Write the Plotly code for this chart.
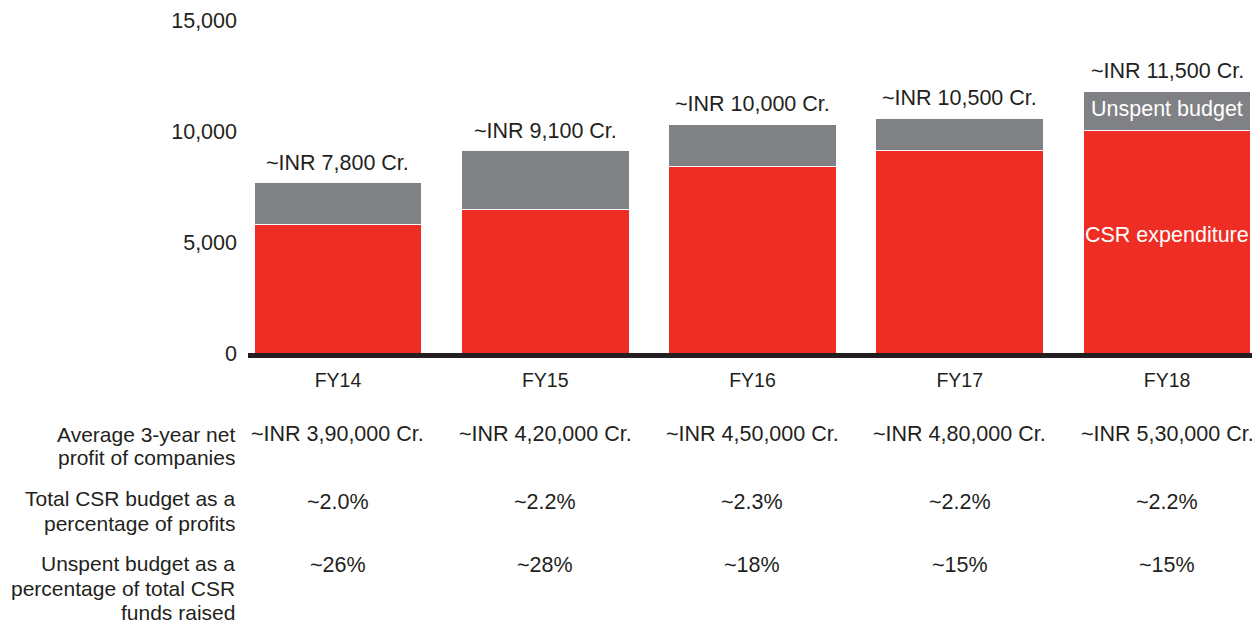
import plotly.graph_objects as go

years = ["FY14", "FY15", "FY16", "FY17", "FY18"]
csr_expenditure = [5770, 6450, 8420, 9140, 10040]
unspent_budget = [1890, 2650, 1880, 1430, 1760]
total_labels = ["~INR 7,800 Cr.", "~INR 9,100 Cr.", "~INR 10,000 Cr.", "~INR 10,500 Cr.", "~INR 11,500 Cr."]
avg_profit = ["~INR 3,90,000 Cr.", "~INR 4,20,000 Cr.", "~INR 4,50,000 Cr.", "~INR 4,80,000 Cr.", "~INR 5,30,000 Cr."]
budget_pct = ["~2.0%", "~2.2%", "~2.3%", "~2.2%", "~2.2%"]
unspent_pct = ["~26%", "~28%", "~18%", "~15%", "~15%"]
row_labels = [["Average 3-year net", "profit of companies"],
              ["Total CSR budget as a", "percentage of profits"],
              ["Unspent budget as a", "percentage of total CSR", "funds raised"]]
y_ticks = [0, 5000, 10000, 15000]

RED = "#EE2E24"
GRAY = "#808184"
TXT = "#231F20"
FONT = "Arial, Liberation Sans, sans-serif"
FS = 21.5

# page body has an 8px margin; figure coordinates are offset accordingly
OFF = 8
W, H = 1252, 622
L, R, T, B = 240, 8, 12, 277
PH = H - T - B
PW = W - L - R

def py(screen_y):
    return (H - B - (screen_y - OFF)) / PH

def px(screen_x):
    return (screen_x - OFF - L) / PW

x_idx = list(range(len(years)))

fig = go.Figure()
fig.add_bar(x=x_idx, y=csr_expenditure, marker=dict(color=RED, line=dict(color="white", width=1)),
            name="CSR expenditure")
fig.add_bar(x=x_idx, y=unspent_budget, marker=dict(color=GRAY, line=dict(color="white", width=1)),
            name="Unspent budget")

ann = []
for i in x_idx:
    tot = csr_expenditure[i] + unspent_budget[i]
    ann.append(dict(x=i, y=tot, xref="x", yref="y", text=total_labels[i], showarrow=False,
                    yanchor="bottom", yshift=6, font=dict(size=FS, color=TXT, family=FONT)))
    for txt, sy in [(avg_profit[i], 434), (budget_pct[i], 502), (unspent_pct[i], 565)]:
        ann.append(dict(x=i, y=py(sy), xref="x", yref="paper", text=txt, showarrow=False,
                        yanchor="middle", font=dict(size=FS, color=TXT, family=FONT)))

row_line_y = [[434, 458], [498, 523], [563, 588, 612]]
for lines, ys in zip(row_labels, row_line_y):
    for txt, sy in zip(lines, ys):
        ann.append(dict(x=px(237), y=py(sy), xref="paper", yref="paper", text=txt,
                        showarrow=False, xanchor="right", yanchor="middle", align="right",
                        font=dict(size=21, color=TXT, family=FONT)))

last = len(years) - 1
ann.append(dict(x=last, y=csr_expenditure[last] + unspent_budget[last] / 2, xref="x", yref="y",
                yshift=2, text="Unspent budget", showarrow=False,
                font=dict(size=FS, color="white", family=FONT)))
ann.append(dict(x=last, y=csr_expenditure[last] / 2, xref="x", yref="y", yshift=7,
                text="CSR expenditure", showarrow=False, font=dict(size=FS, color="white", family=FONT)))

fig.update_layout(
    barmode="stack", bargap=0.19, width=W, height=H, showlegend=False,
    margin=dict(l=L, r=R, t=T, b=B, autoexpand=False),
    plot_bgcolor="white", paper_bgcolor="white",
    font=dict(family=FONT, color=TXT, size=FS),
    annotations=ann,
    xaxis=dict(range=[-0.434, 4.41], tickmode="array", tickvals=x_idx, ticktext=years,
               showline=True, linecolor="#231F20", linewidth=5, ticks="", showgrid=False,
               zeroline=False, tickfont=dict(size=19.5, color=TXT, family=FONT), ticklabelstandoff=6),
    yaxis=dict(range=[0, 15000], tickvals=y_ticks, tickformat=",d", showgrid=False, zeroline=False,
               showline=False, ticks="", tickfont=dict(size=FS, color=TXT, family=FONT),
               ticklabelstandoff=10),
)

fig.write_html("out.html")
